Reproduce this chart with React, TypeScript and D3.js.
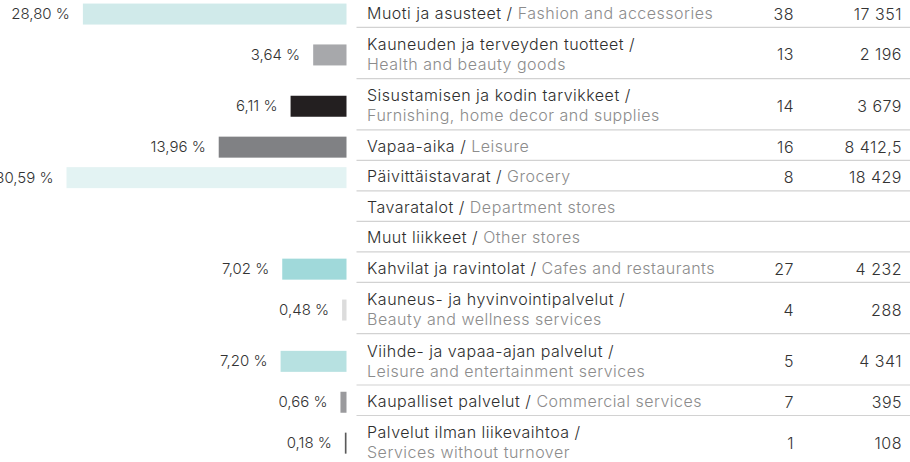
import * as d3 from "d3";

const namesFi = [
  "Muoti ja asusteet",
  "Kauneuden ja terveyden tuotteet",
  "Sisustamisen ja kodin tarvikkeet",
  "Vapaa-aika",
  "Päivittäistavarat",
  "Tavaratalot",
  "Muut liikkeet",
  "Kahvilat ja ravintolat",
  "Kauneus- ja hyvinvointipalvelut",
  "Viihde- ja vapaa-ajan palvelut",
  "Kaupalliset palvelut",
  "Palvelut ilman liikevaihtoa",
];
const namesEn = [
  "Fashion and accessories",
  "Health and beauty goods",
  "Furnishing, home decor and supplies",
  "Leisure",
  "Grocery",
  "Department stores",
  "Other stores",
  "Cafes and restaurants",
  "Beauty and wellness services",
  "Leisure and entertainment services",
  "Commercial services",
  "Services without turnover",
];
const wrapped = [false, true, true, false, false, false, false, false, true, true, false, true];
const shares = [28.8, 3.64, 6.11, 13.96, 30.59, null, null, 7.02, 0.48, 7.2, 0.66, 0.18];
const counts = [38, 13, 14, 16, 8, null, null, 27, 4, 5, 7, 1];
const areas = [17351, 2196, 3679, 8412.5, 18429, null, null, 4232, 288, 4341, 395, 108];
const barColors = ["#d0eaea", "#a7a8ab", "#231f20", "#808184", "#e3f3f3", null, null, "#a0d9da", "#dcdcdc", "#b7e1e1", "#9a9a9d", "#5a5a5a"];

const fi = d3.formatLocale({ decimal: ",", thousands: "\u00a0", grouping: [3], currency: ["", " €"] });
const fmtShare = fi.format(".2f");
const fmtArea = fi.format(",");

const App = () => {
  const width = 910;
  const height = 462;
  const barRight = 346.5;
  const tableLeft = 356.5;
  const textX = 367;
  const col1Right = 794;
  const col2Right = 902;
  const singleH = 30.5;
  const doubleH = 51.3;
  const firstTop = -3.2;
  const barH = 21;
  const fs = 16;
  const ls = 0.5;
  const font = "Inter, 'Noto Sans', sans-serif";

  const x = d3.scaleLinear([0, 30.59], [0, 280]);

  const heights = wrapped.map((w) => (w ? doubleH : singleH));
  const tops = heights.map((_, i) => firstTop + d3.sum(heights.slice(0, i)));

  return (
    <svg width={width} height={height} style={{ position: "absolute", left: 0, top: 0 }} fontFamily={font} fontWeight={300}>
      {namesFi.map((name, i) => {
        const top = tops[i];
        const bottom = top + heights[i];
        const center = (top + bottom) / 2;
        const lastBase = bottom - 8.5;
        const share = shares[i];
        const barW = share == null ? 0 : Math.max(x(share), 1.2);
        const barY = center + 2 - barH / 2;
        return (
          <g key={i}>
            <line x1={tableLeft} x2={width} y1={bottom} y2={bottom} stroke="#d2d2d2" strokeWidth={1.2} />
            {share != null && (
              <>
                <rect x={barRight - barW} y={barY} width={barW} height={barH} fill={barColors[i] ?? "#ccc"} />
                <text x={barRight - barW - 13} y={barY + 15.5} textAnchor="end" fontSize={15} fill="#333">
                  {fmtShare(share) + " %"}
                </text>
              </>
            )}
            <g fontSize={fs} letterSpacing={ls}>
              {wrapped[i] ? (
                <>
                  <text x={textX} y={lastBase - 20} fill="#2e2e2e">{name + " /"}</text>
                  <text x={textX} y={lastBase} fill="#8c8c8c">{namesEn[i]}</text>
                </>
              ) : (
                <text x={textX} y={lastBase} fill="#2e2e2e">
                  {name + " / "}
                  <tspan fill="#8c8c8c">{namesEn[i]}</tspan>
                </text>
              )}
              {counts[i] != null && (
                <text x={col1Right} y={center + 7.5} textAnchor="end" fill="#333">{counts[i]}</text>
              )}
              {areas[i] != null && (
                <text x={col2Right} y={center + 7.5} textAnchor="end" fill="#333">{fmtArea(areas[i] as number)}</text>
              )}
            </g>
          </g>
        );
      })}
    </svg>
  );
};

export default App;
